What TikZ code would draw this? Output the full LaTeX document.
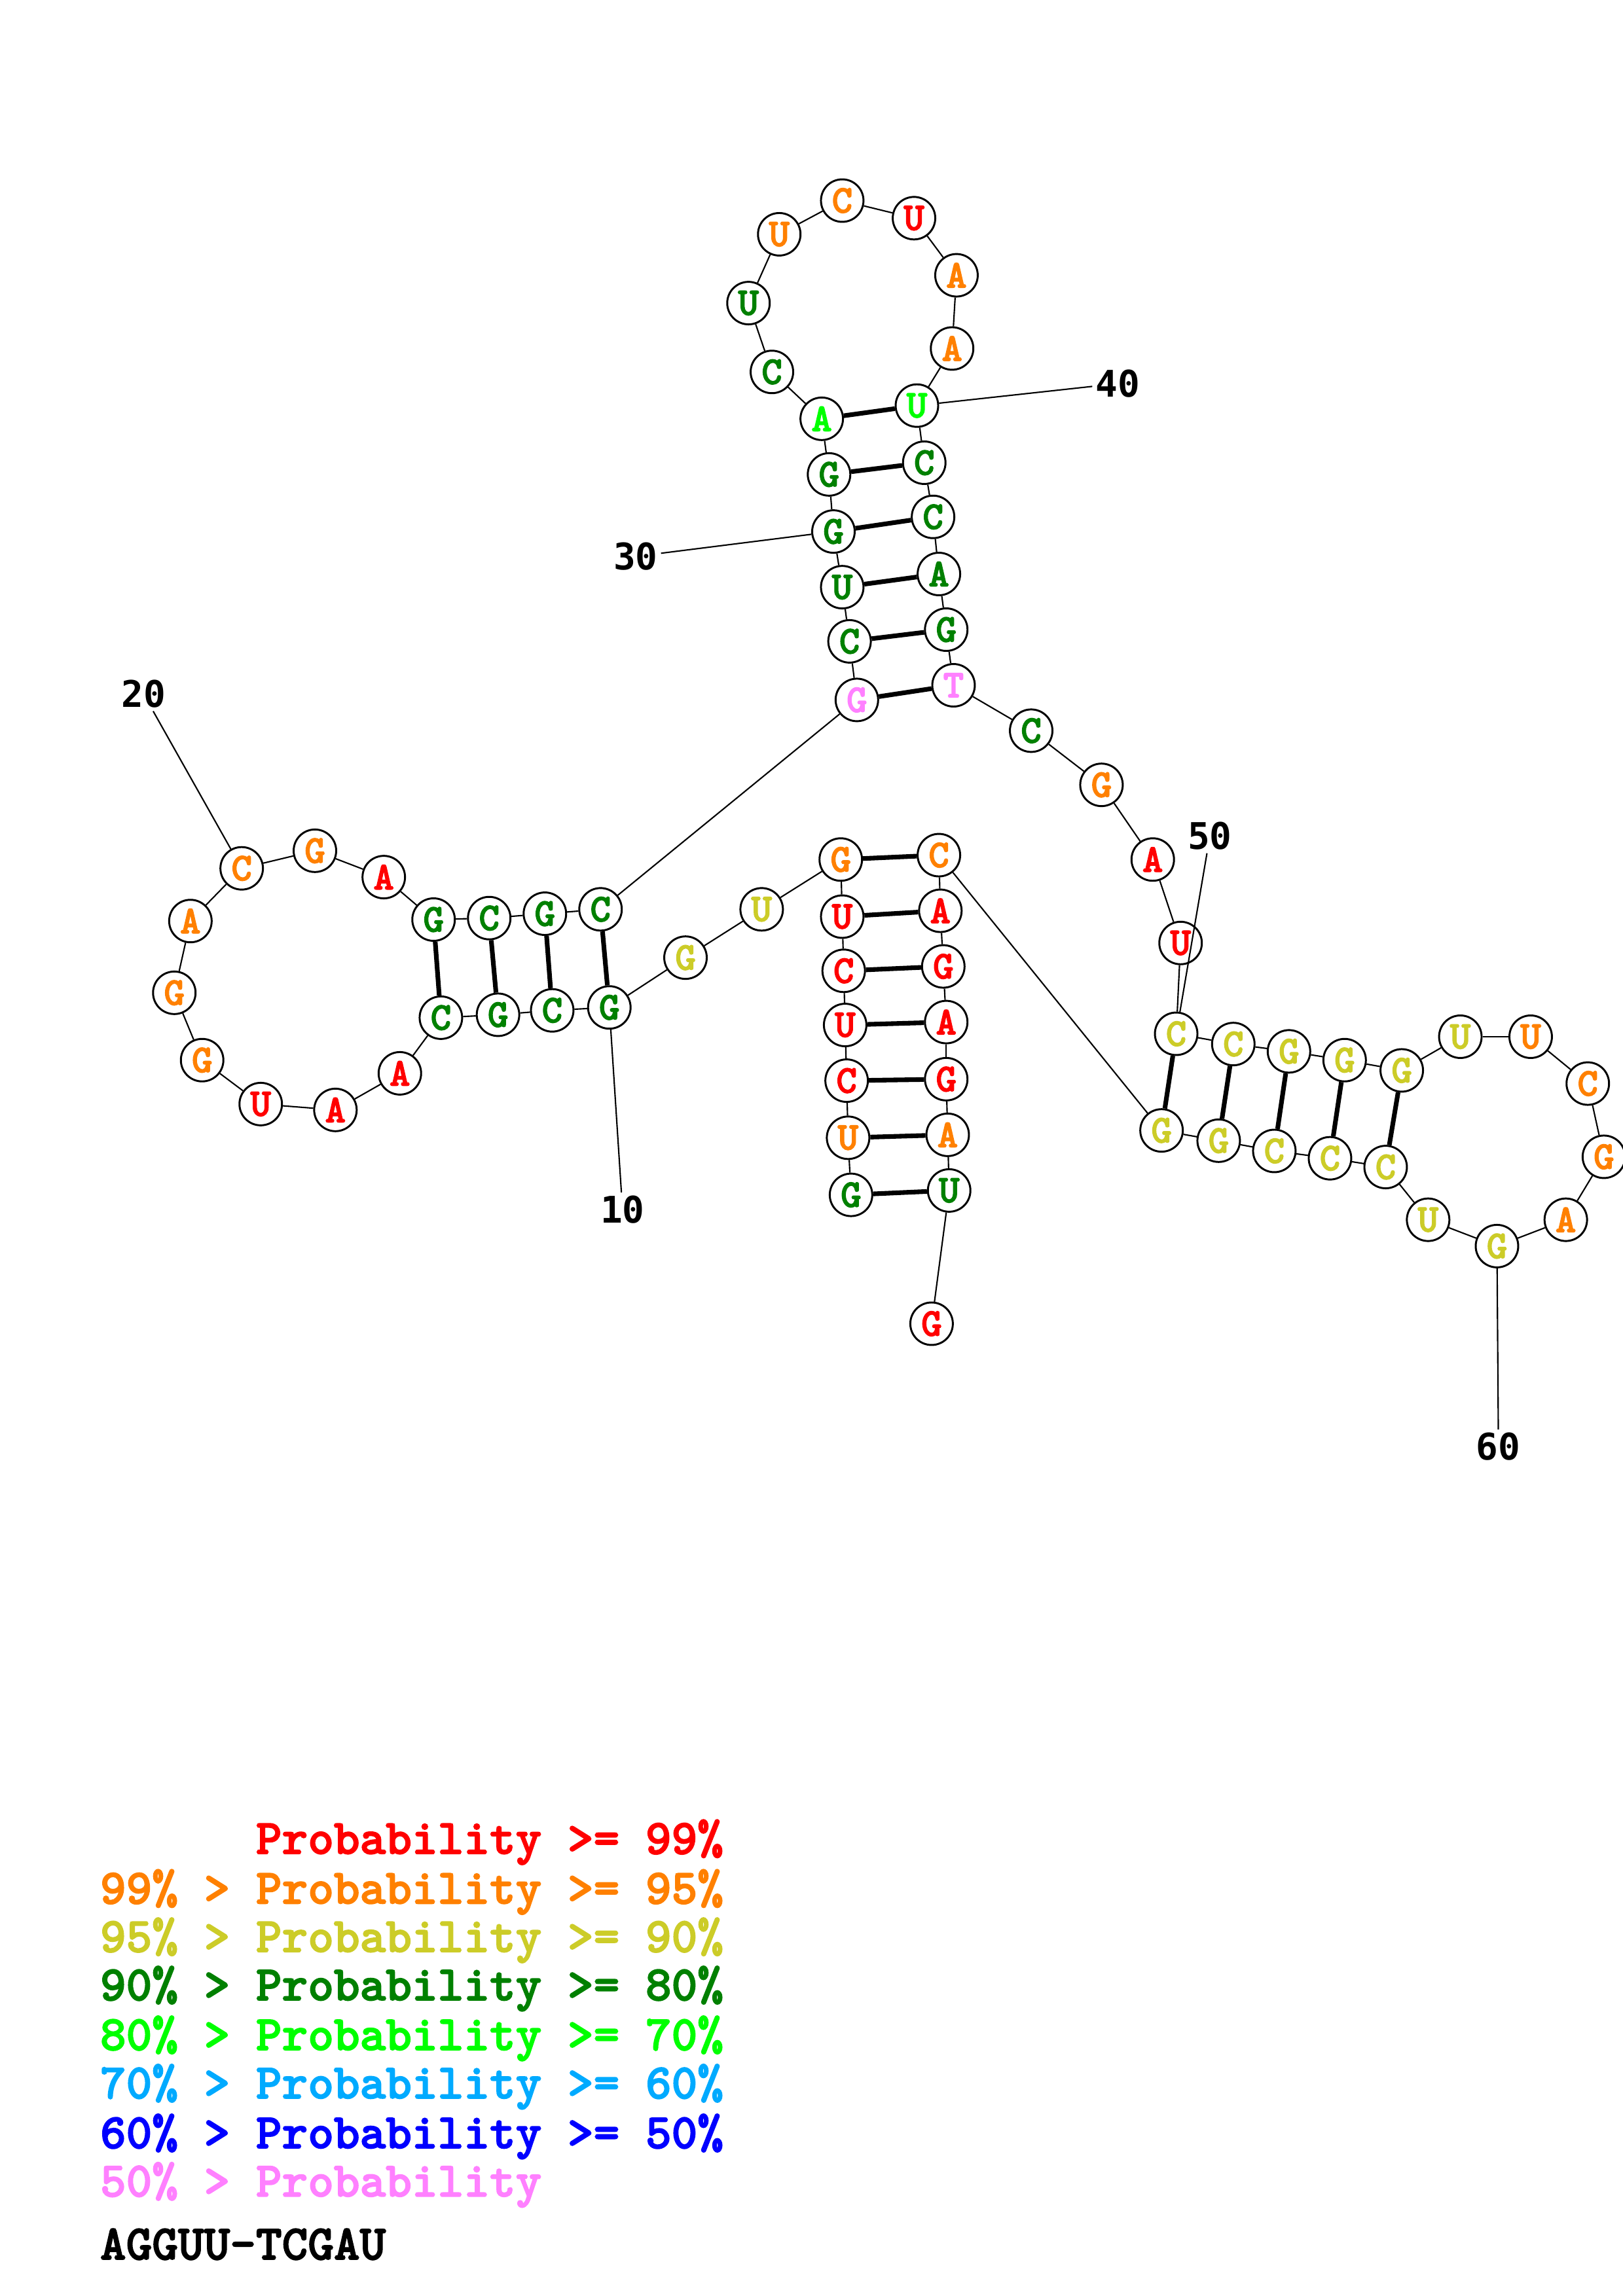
\documentclass[tikz,border=0pt]{standalone}
\usepackage{fontspec}
\newfontfamily\numfont{DejaVu Sans Mono}
\newfontfamily\slabfont{lmmonolt10-bold.otf}[FakeBold=2.2]
\usepackage{xcolor}
\definecolor{pred}{RGB}{255,0,0}
\definecolor{porange}{RGB}{255,128,0}
\definecolor{pyellow}{RGB}{204,204,40}
\definecolor{pgreen}{RGB}{0,128,0}
\definecolor{plime}{RGB}{0,255,0}
\definecolor{psky}{RGB}{0,170,255}
\definecolor{pblue}{RGB}{0,0,255}
\definecolor{ppink}{RGB}{255,128,255}
\tikzset{
  nt/.style={circle,draw=black,fill=white,line width=0.25mm,minimum size=5.5mm,inner sep=0pt,
    font=\slabfont\fontsize{14.5}{14.5}\selectfont},
  ntr/.style={nt,text=pred},
  nto/.style={nt,text=porange},
  nty/.style={nt,text=pyellow},
  ntg/.style={nt,text=pgreen},
  ntl/.style={nt,text=plime},
  ntp/.style={nt,text=ppink},
  backbone/.style={line width=0.18mm,draw=black},
  pairbond/.style={line width=0.6mm,draw=black},
  numlab/.style={font=\numfont\bfseries\fontsize{13.5}{13.5}\selectfont,inner sep=1pt},
  tick/.style={line width=0.18mm,draw=black},
  legline/.style={anchor=base west,inner sep=0pt,font=\slabfont\fontsize{18.2}{18.2}\selectfont}
}
\begin{document}
\begin{tikzpicture}[x=0.18941mm,y=-0.18941mm]
  \useasboundingbox (0,0) rectangle (1108,1568);

  % nucleotides
  \node[ntg] (n1) at (581,816) {G};
  \node[nto] (n2) at (579,777) {U};
  \node[ntr] (n3) at (578,738) {C};
  \node[ntr] (n4) at (577,700) {U};
  \node[ntr] (n5) at (576,663) {C};
  \node[ntr] (n6) at (575,626) {U};
  \node[nto] (n7) at (574,587) {G};
  \node[nty] (n8) at (520,621) {U};
  \node[nty] (n9) at (468,654) {G};
  \node[ntg] (n10) at (416,688) {G};
  \node[ntg] (n11) at (377,690) {C};
  \node[ntg] (n12) at (340,693) {G};
  \node[ntg] (n13) at (301,695) {C};
  \node[ntr] (n14) at (273,733) {A};
  \node[ntr] (n15) at (229,758) {A};
  \node[ntr] (n16) at (178,754) {U};
  \node[nto] (n17) at (138,724) {G};
  \node[nto] (n18) at (119,678) {G};
  \node[nto] (n19) at (130,629) {A};
  \node[nto] (n20) at (165,593) {C};
  \node[nto] (n21) at (215,581) {G};
  \node[ntr] (n22) at (262,599) {A};
  \node[ntg] (n23) at (296,628) {G};
  \node[ntg] (n24) at (334,627) {C};
  \node[ntg] (n25) at (372,624) {G};
  \node[ntg] (n26) at (410,621) {C};
  \node[ntp] (n27) at (585,478) {G};
  \node[ntg] (n28) at (580,438) {C};
  \node[ntg] (n29) at (575,401) {U};
  \node[ntg] (n30) at (569,363) {G};
  \node[ntg] (n31) at (566,324) {G};
  \node[ntl] (n32) at (561,286) {A};
  \node[ntg] (n33) at (527,254) {C};
  \node[ntg] (n34) at (511,207) {U};
  \node[nto] (n35) at (532,160) {U};
  \node[nto] (n36) at (575,137) {C};
  \node[ntr] (n37) at (624,149) {U};
  \node[nto] (n38) at (653,188) {A};
  \node[nto] (n39) at (650,238) {A};
  \node[ntl] (n40) at (626,277) {U};
  \node[ntg] (n41) at (631,316) {C};
  \node[ntg] (n42) at (637,353) {C};
  \node[ntg] (n43) at (641,392) {A};
  \node[ntg] (n44) at (646,430) {G};
  \node[ntp] (n45) at (651,468) {T};
  \node[ntg] (n46) at (704,499) {C};
  \node[nto] (n47) at (752,536) {G};
  \node[ntr] (n48) at (787,587) {A};
  \node[ntr] (n49) at (806,644) {U};
  \node[nty] (n50) at (803,706) {C};
  \node[nty] (n51) at (842,713) {C};
  \node[nty] (n52) at (880,718) {G};
  \node[nty] (n53) at (918,724) {G};
  \node[nty] (n54) at (957,731) {G};
  \node[nty] (n55) at (997,708) {U};
  \node[nto] (n56) at (1045,708) {U};
  \node[nto] (n57) at (1084,740) {C};
  \node[nto] (n58) at (1095,790) {G};
  \node[nto] (n59) at (1069,833) {A};
  \node[nty] (n60) at (1022,851) {G};
  \node[nty] (n61) at (975,833) {U};
  \node[nty] (n62) at (946,797) {C};
  \node[nty] (n63) at (908,791) {C};
  \node[nty] (n64) at (870,786) {C};
  \node[nty] (n65) at (832,779) {G};
  \node[nty] (n66) at (793,772) {G};
  \node[nto] (n67) at (641,584) {C};
  \node[ntr] (n68) at (642,622) {A};
  \node[ntr] (n69) at (644,660) {G};
  \node[ntr] (n70) at (646,698) {A};
  \node[ntr] (n71) at (646,737) {G};
  \node[nto] (n72) at (647,775) {A};
  \node[ntg] (n73) at (648,813) {U};
  \node[ntr] (n74) at (636,904) {G};

  % backbone and base pairs
  \foreach \i [evaluate=\i as \j using int(\i+1)] in {1,...,73}
    \draw[backbone] (n\i) -- (n\j);
  \foreach \a/\b in {1/73,2/72,3/71,4/70,5/69,6/68,7/67,10/26,11/25,12/24,13/23,
      27/45,28/44,29/43,30/42,31/41,32/40,50/66,51/65,52/64,53/63,54/62}
    \draw[pairbond] (n\a) -- (n\b);

  % position marks
  \node[numlab] (l10) at (425,826) {10};
  \node[numlab] (l20) at (98,474) {20};
  \node[numlab] (l30) at (434,380) {30};
  \node[numlab] (l40) at (763,262) {40};
  \node[numlab] (l50) at (826,571) {50};
  \node[numlab] (l60) at (1023,988) {60};
  \draw[tick] (n10) -- (l10);
  \draw[tick] (n20) -- (l20);
  \draw[tick] (n30) -- (l30);
  \draw[tick] (n40) -- (l40);
  \draw[tick] (n50) -- (l50);
  \draw[tick] (n60) -- (l60);

  % legend
  \node[legline,text=pred] (leg1) at (68,1266) {\hphantom{99\% > }Probability >= 99\%};
  \node[legline,text=porange] (leg2) at (68,1300) {99\% > Probability >= 95\%};
  \node[legline,text=pyellow] (leg3) at (68,1333) {95\% > Probability >= 90\%};
  \node[legline,text=pgreen] (leg4) at (68,1366) {90\% > Probability >= 80\%};
  \node[legline,text=plime] (leg5) at (68,1400) {80\% > Probability >= 70\%};
  \node[legline,text=psky] (leg6) at (68,1433) {70\% > Probability >= 60\%};
  \node[legline,text=pblue] (leg7) at (68,1467) {60\% > Probability >= 50\%};
  \node[legline,text=ppink] (leg8) at (68,1500) {50\% > Probability};
  \node[legline,text=black] (seq) at (68,1543) {AGGUU-TCGAU};
\end{tikzpicture}
\end{document}
